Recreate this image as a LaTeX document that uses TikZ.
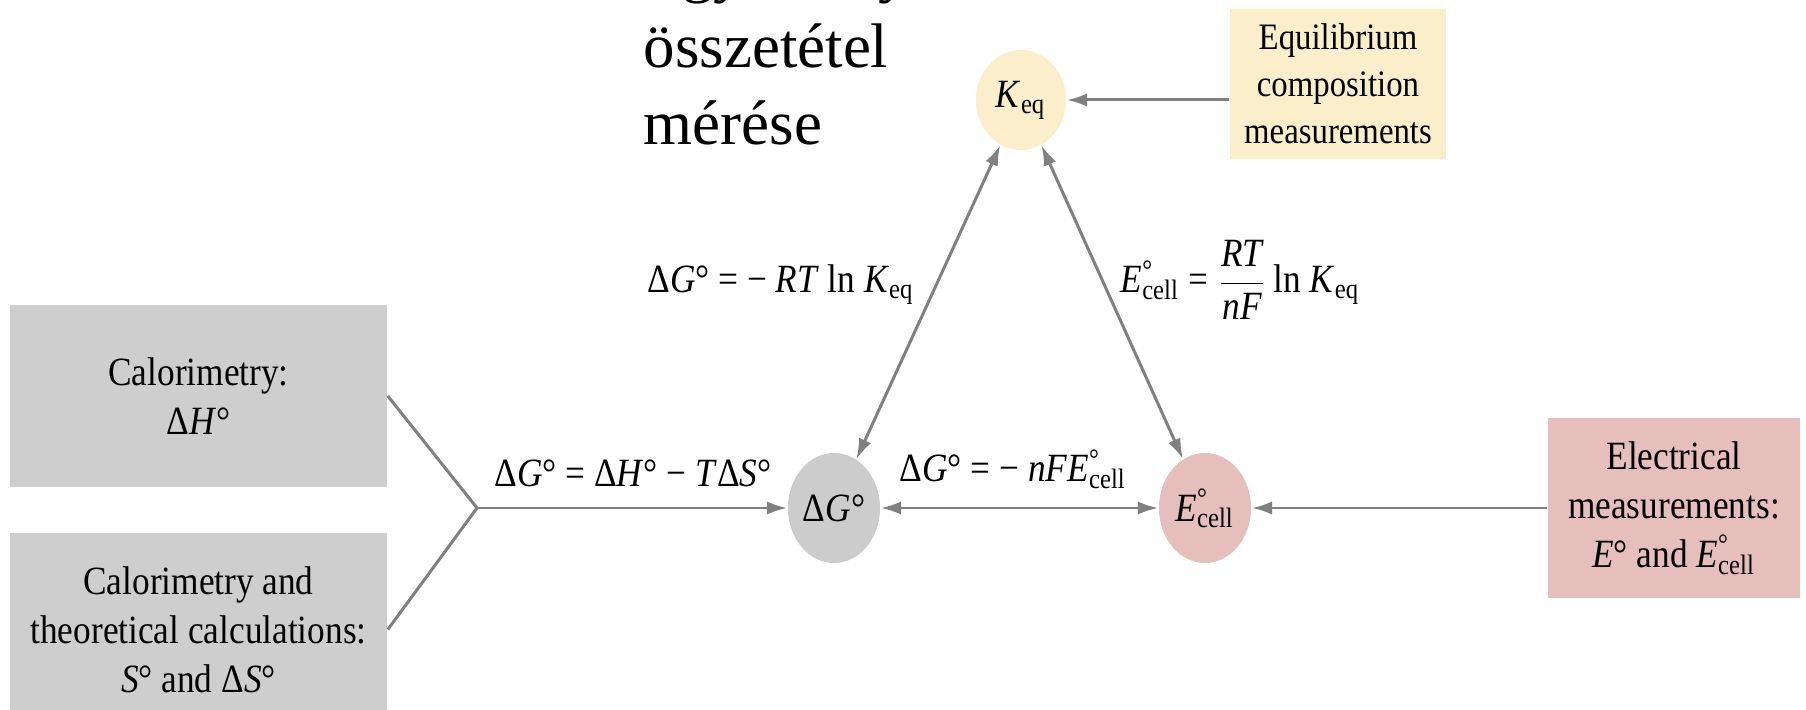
\documentclass[tikz,border=0pt]{standalone}
\usepackage{amsmath}
\usepackage{fontspec}
\setmainfont{Liberation Serif}
\newfontfamily\figfont[FakeStretch=0.88]{Liberation Serif}
\usetikzlibrary{positioning,shapes.geometric,arrows.meta}

\definecolor{keqfill}{HTML}{FBEFCB}
\definecolor{calgray}{HTML}{CECECE}
\definecolor{dgfill}{HTML}{CCCCCC}
\definecolor{ecfill}{HTML}{E6BEBC}
\definecolor{arrgray}{HTML}{808080}

\newcommand{\Ecl}{\textit{E}\rlap{\textsuperscript{°}}\textsubscript{cell}}
\newcommand{\Keq}{\textit{K}\textsubscript{eq}}

\tikzset{
  conn/.style={draw=arrgray,line width=0.85pt},
  blob/.style={ellipse,inner sep=0pt,minimum width=0.92cm,minimum height=1.1cm,
    font=\figfont\fontsize{11.4pt}{14pt}\selectfont},
  srcbox/.style={rectangle,inner sep=0pt,align=center,
    font=\figfont\fontsize{11.4pt}{14pt}\selectfont},
  lbl/.style={inner sep=0pt,font=\figfont\fontsize{11.4pt}{14pt}\selectfont},
  bigtxt/.style={inner sep=0pt,font=\fontsize{17.9pt}{21.9pt}\selectfont}
}

\begin{document}
\begin{tikzpicture}[x=0.01cm,y=-0.01cm,>={Latex[length=5.8pt,width=3.8pt]}]
\useasboundingbox (0,0) rectangle (1806,710);

% big text, top line cut by the page
\node[bigtxt,anchor=base west] (hu1) at (643,-9) {Egyensúlyi};
\node[bigtxt,anchor=base west] (hu2) at (643,68) {összetétel};
\node[bigtxt,anchor=base west] (hu3) at (643,145) {mérése};

% the three quantities
\node[blob,fill=keqfill,minimum height=1.0cm,minimum width=0.9cm] (keq) at (1021,100) {\Keq};
\node[blob,fill=dgfill] (dg) at (834,508) {Δ\textit{G}°};
\node[blob,fill=ecfill] (ecell) at (1205,508) {\Ecl};

% measurements
\node[srcbox,fill=keqfill,minimum width=2.16cm,minimum height=1.5cm,
  font=\figfont\fontsize{10.6pt}{13.4pt}\selectfont] (eqbox) at (1338,84) {Equilibrium\\composition\\measurements};
\node[srcbox,fill=calgray,minimum width=3.77cm,minimum height=1.82cm] (cal) at (198.5,396) {Calorimetry:\\Δ\textit{H}°};
\node[srcbox,fill=calgray,minimum width=3.77cm,minimum height=1.92cm,below=0.45cm of cal] (theo) {Calorimetry and\\theoretical calculations:\\\textit{S}° and Δ\textit{S}°};
\node[srcbox,fill=ecfill,minimum width=2.52cm,minimum height=1.8cm] (elec) at (1674,508) {Electrical\\measurements:\\\textit{E}° and \Ecl};

\coordinate (junc) at (477,508);

% connectors
\draw[conn] (cal.east) -- (junc) -- (theo.east);
\draw[conn,->] (junc) -- (dg);
\draw[conn,<->] (dg) -- (ecell);
\draw[conn,<->] (dg) -- (keq);
\draw[conn,<->] (ecell) -- (keq);
\draw[conn,->] (eqbox.west |- keq) -- (keq);
\draw[conn,->] (elec) -- (ecell);

% relations
\node[lbl,anchor=base] (ghts) at (633,487) {Δ\textit{G}° = Δ\textit{H}° − \textit{T}Δ\textit{S}°};
\node[lbl,anchor=base] (gnfe) at (1013,482) {Δ\textit{G}° = − \textit{nF}\Ecl};
\node[lbl,anchor=base east] (grtk) at (915,293) {Δ\textit{G}° = − \textit{RT} ln \Keq};
\node[lbl,anchor=base west] (erk) at (1120,293) {\Ecl\ = $\dfrac{\text{\itshape RT}}{\text{\itshape nF}}$\,ln \Keq};
\end{tikzpicture}
\end{document}
